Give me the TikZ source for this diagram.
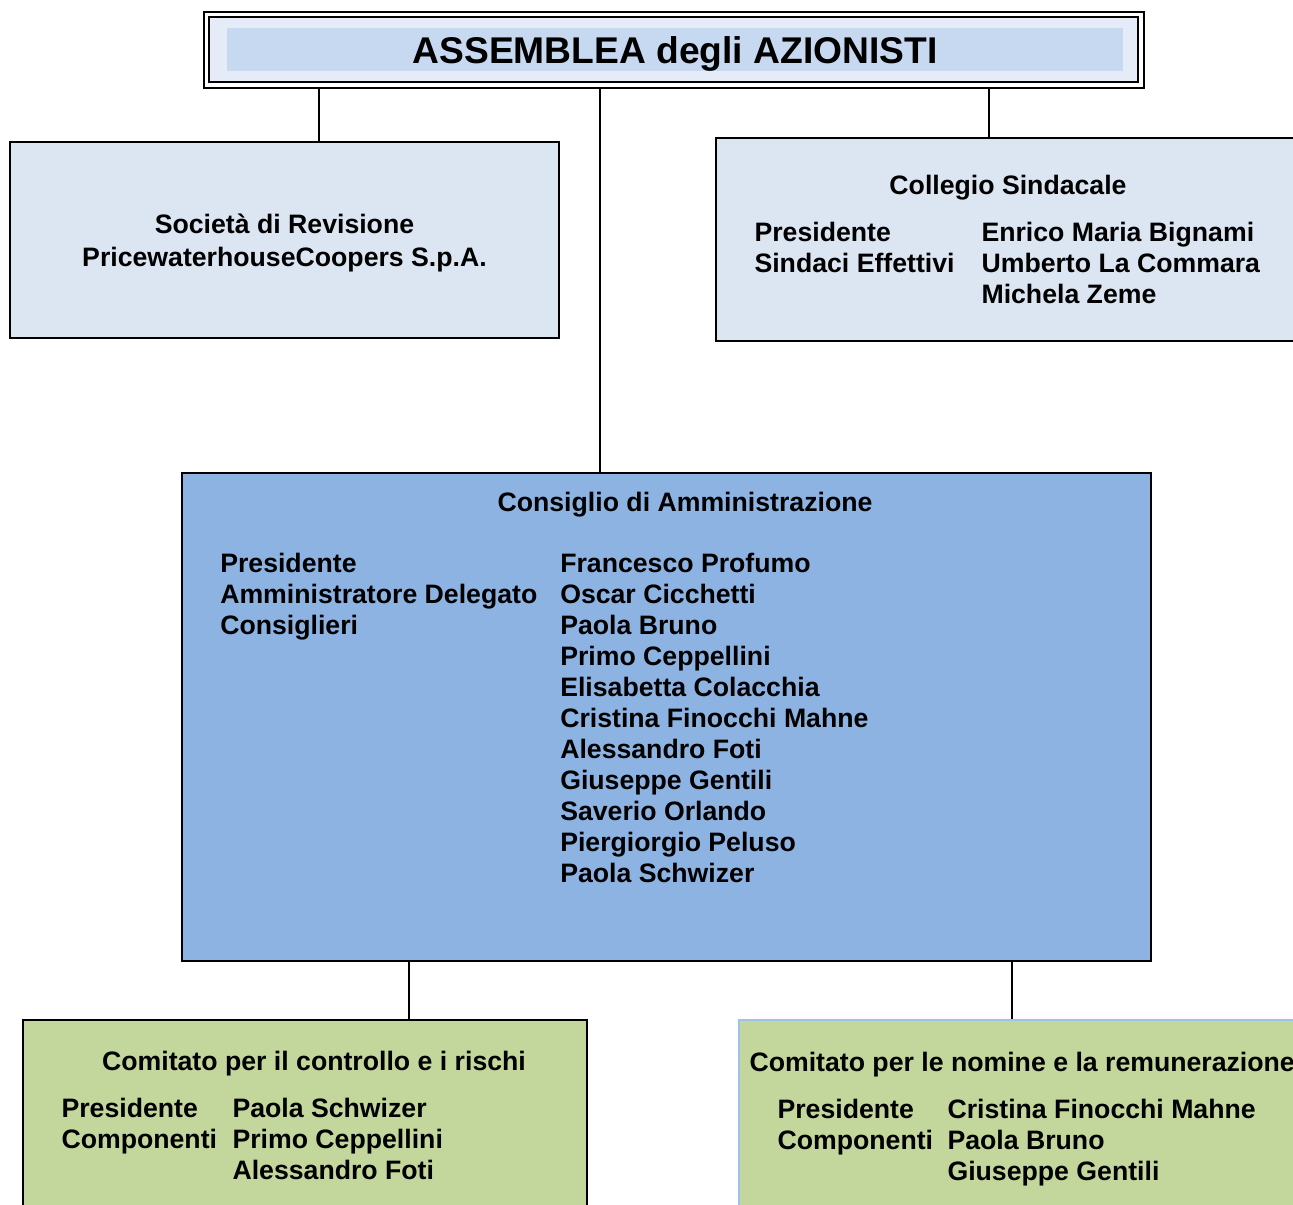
\documentclass[tikz,border=0pt]{standalone}
\usepackage{fontspec}
\setmainfont{Liberation Sans}
\usetikzlibrary{calc,positioning}
\definecolor{assChiaro}{HTML}{E5ECF7}
\definecolor{assScuro}{HTML}{C6D9F1}
\definecolor{boxChiaro}{HTML}{DCE6F2}
\definecolor{cdaBlu}{HTML}{8DB3E2}
\definecolor{comVerde}{HTML}{C3D69B}
\definecolor{comBordo}{HTML}{9DC3E6}
\tikzset{
    every node/.style={font=\fontsize{20}{23.25}\selectfont\bfseries},
    box/.style={draw=black,line width=1.1pt,inner sep=0pt},
    testo/.style={inner sep=0pt,anchor=base west},
    titolo/.style={inner sep=0pt,anchor=base},
    link/.style={draw=black,line width=1.1pt}
}
\newcommand{\elenco}[1]{\begin{tabular}[t]{@{}l@{}}#1\end{tabular}}

\begin{document}
\begin{tikzpicture}[x=0.75pt,y=-0.75pt]
    \useasboundingbox (0,0) rectangle (1293,1204);
    \clip (0,0) rectangle (1293,1204);

    % assemblea
    \node[box,line width=0.8pt,fill=white,minimum width=705pt,minimum height=57pt] (assemblea) at (674,50) {};
    \node[box,line width=1.7pt,fill=assChiaro,minimum width=696.75pt,minimum height=48.75pt] (assCornice) at (673.5,49.5) {};
    \node[inner sep=0pt,fill=assScuro,minimum width=672pt,minimum height=32.25pt] (assFondo) at (675,49.5) {};
    \node[titolo,font=\fontsize{27.9}{33}\selectfont\bfseries] (assTesto) at (675,63.3) {ASSEMBLEA degli AZIONISTI};

    % boxes
    \node[box,fill=boxChiaro,minimum width=411.75pt,minimum height=147pt] (revisione) at (284.5,240) {};
    \node[box,fill=boxChiaro,minimum width=445.5pt,minimum height=152.25pt] (collegio) at (1013,239.5) {};
    \node[box,line width=1.5pt,fill=cdaBlu,minimum width=726.75pt,minimum height=366pt] (cda) at (666.5,717) {};
    \node[box,fill=comVerde,minimum width=423pt,minimum height=150pt] (controllo) at (305,1120) {};
    \node[box,draw=comBordo,fill=comVerde,minimum width=428.25pt,minimum height=150pt] (nomine) at (1024.5,1120) {};

    % text
    \node[titolo] (revTesto) at ($(revisione.north)+(0,92)$) {\begin{tabular}[t]{@{}c@{}}Società di Revisione\\[1.5pt]PricewaterhouseCoopers S.p.A.\end{tabular}};

    \node[titolo] (colTitolo) at (1008,194.5) {Collegio Sindacale};
    \node[testo] (colRuoli) at ($(collegio.north west)+(39,104)$) {\elenco{Presidente\\Sindaci Effettivi}};
    \node[testo] (colNomi) at ($(collegio.north west)+(266,104)$) {\elenco{Enrico Maria Bignami\\Umberto La Commara\\Michela Zeme}};

    \node[titolo] (cdaTitolo) at ($(cda.north)+(18.5,39)$) {Consiglio di Amministrazione};
    \node[testo] (cdaRuoli) at ($(cda.north west)+(39,100)$) {\elenco{Presidente\\Amministratore Delegato\\Consiglieri}};
    \node[testo] (cdaNomi) at ($(cda.north west)+(379,100)$) {\elenco{Francesco Profumo\\Oscar Cicchetti\\Paola Bruno\\Primo Ceppellini\\Elisabetta Colacchia\\Cristina Finocchi Mahne\\Alessandro Foti\\Giuseppe Gentili\\Saverio Orlando\\Piergiorgio Peluso\\Paola Schwizer}};

    \node[titolo] (conTitolo) at (314,1070.5) {Comitato per il controllo e i rischi};
    \node[testo] (conRuoli) at ($(controllo.north west)+(39,98)$) {\elenco{Presidente\\Componenti}};
    \node[testo] (conNomi) at ($(controllo.north west)+(210,98)$) {\elenco{Paola Schwizer\\Primo Ceppellini\\Alessandro Foti}};

    \node[testo] (nomTitolo) at ($(nomine.north west)+(11,52)$) {Comitato per le nomine e la remunerazione};
    \node[testo] (nomRuoli) at ($(nomine.north west)+(39,99)$) {\elenco{Presidente\\Componenti}};
    \node[testo] (nomNomi) at ($(nomine.north west)+(209,99)$) {\elenco{Cristina Finocchi Mahne\\Paola Bruno\\Giuseppe Gentili}};

    % connectors
    \coordinate (revAttacco) at (319,0);
    \coordinate (colAttacco) at (989,0);
    \coordinate (cdaAttacco) at (600,0);
    \coordinate (conAttacco) at (409,0);
    \coordinate (nomAttacco) at (1012,0);
    \draw[link] (assemblea.south -| revAttacco) -- (revisione.north -| revAttacco);
    \draw[link] (assemblea.south -| colAttacco) -- (collegio.north -| colAttacco);
    \draw[link] (assemblea.south -| cdaAttacco) -- (cda.north -| cdaAttacco);
    \draw[link] (cda.south -| conAttacco) -- (controllo.north -| conAttacco);
    \draw[link] (cda.south -| nomAttacco) -- (nomine.north -| nomAttacco);
\end{tikzpicture}
\end{document}
